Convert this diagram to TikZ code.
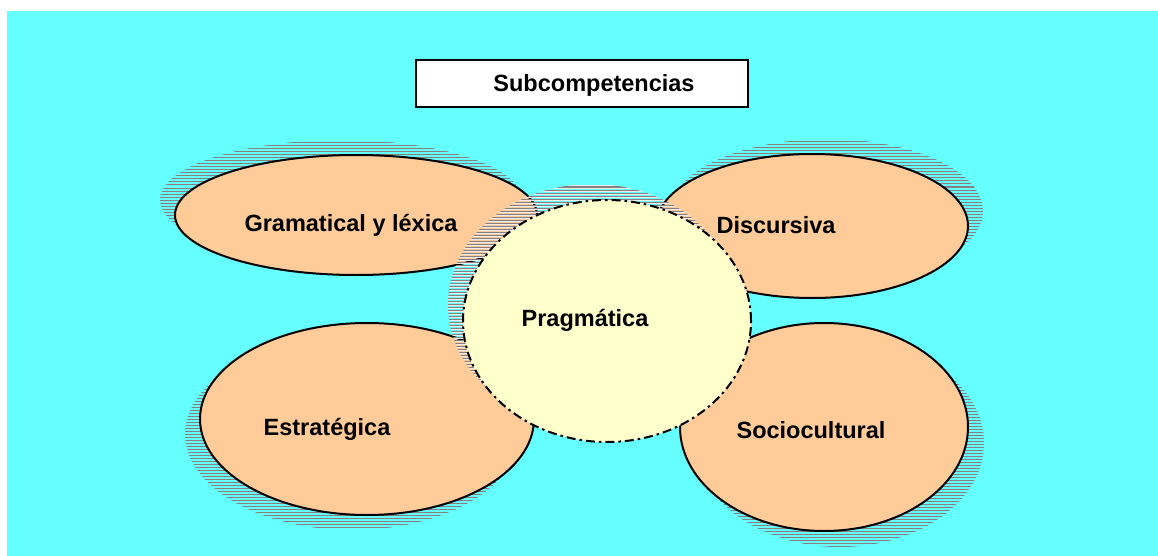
\documentclass[tikz,border=0pt]{standalone}
\usepackage{fontspec}
\setmainfont{Liberation Sans}
\usetikzlibrary{shapes.geometric}
\definecolor{bgcyan}{HTML}{66FFFF}
\definecolor{peach}{HTML}{FFCC99}
\definecolor{cream}{HTML}{FFFFCC}
\definecolor{shadowgray}{HTML}{8A7F80}
\tikzset{
  blob/.style={ellipse, draw=black, line width=2pt, fill=peach, inner sep=0pt, outer sep=0pt},
  centreblob/.style={ellipse, draw=black, line width=2pt, fill=cream, inner sep=0pt, outer sep=0pt,
     dash pattern=on 9pt off 4pt on 2.5pt off 4pt},
  label/.style={font=\fontsize{23.5}{28}\selectfont\bfseries, inner sep=0pt, anchor=base},
  titlebox/.style={rectangle, draw=black, line width=2pt, fill=white, inner sep=0pt},
  hatchline/.style={draw=shadowgray, line width=1pt},
  lighthatch/.style={draw=white!85!gray, line width=1pt},
}
% cx, cy, rx, ry : shadow ellipse (picture units, y downward)
\newcommand{\hatchshadow}[4]{%
  \begin{scope}
    \clip (#1,#2) ellipse [x radius=#3pt, y radius=#4pt];
    \foreach \k in {0,...,85} {
      \draw[hatchline] ({#1-#3-2},{#2-#4+3*\k}) -- ++({2*#3+4},0);
    }
  \end{scope}}
\newcommand{\lighthatchshadow}[4]{%
  \begin{scope}
    \clip (#1,#2) ellipse [x radius=#3pt, y radius=#4pt];
    \foreach \k in {0,...,85} {
      \draw[hatchline] ({#1-#3-2},{#2-#4+3*\k}) -- ++({2*#3+4},0);
      \draw[lighthatch] ({#1-#3-2},{#2-#4+3*\k+1.5}) -- ++({2*#3+4},0);
    }
  \end{scope}}
\begin{document}
\begin{tikzpicture}[x=1pt,y=-1pt]
  \useasboundingbox[fill=white] (0,0) rectangle (1158,556);
  \fill[bgcyan] (7,11) rectangle (1158,556);

  % Gramatical y lexica
  \hatchshadow{341}{200}{181}{60}
  \node[blob, minimum width=362pt, minimum height=120pt] (gram) at (356,215) {};
  % Discursiva
  \hatchshadow{827}{211}{156}{72}
  \node[blob, minimum width=312pt, minimum height=144pt] (disc) at (812,226) {};
  % Estrategica
  \hatchshadow{352}{434}{167}{96}
  \node[blob, minimum width=334pt, minimum height=192pt] (estr) at (367,419) {};
  % Sociocultural
  \hatchshadow{840}{443}{144}{104}
  \node[blob, minimum width=288pt, minimum height=208pt] (soci) at (824,427) {};

  % Pragmatica
  \lighthatchshadow{592}{305}{144}{121}
  \node[centreblob, minimum width=288pt, minimum height=242pt] (prag) at (607,321) {};

  % title
  \node[titlebox, minimum width=332pt, minimum height=47pt] (tbox) at (582,83.5) {};
  \node[label] (title) at (594,92) {Subcompetencias};

  \node[label] (tgram) at (351,231) {Gramatical y léxica};
  \node[label] (tdisc) at (776,233) {Discursiva};
  \node[label] (tprag) at (585,326) {Pragmática};
  \node[label] (testr) at (327,435) {Estratégica};
  \node[label] (tsoci) at (811,438) {Sociocultural};
\end{tikzpicture}
\end{document}
